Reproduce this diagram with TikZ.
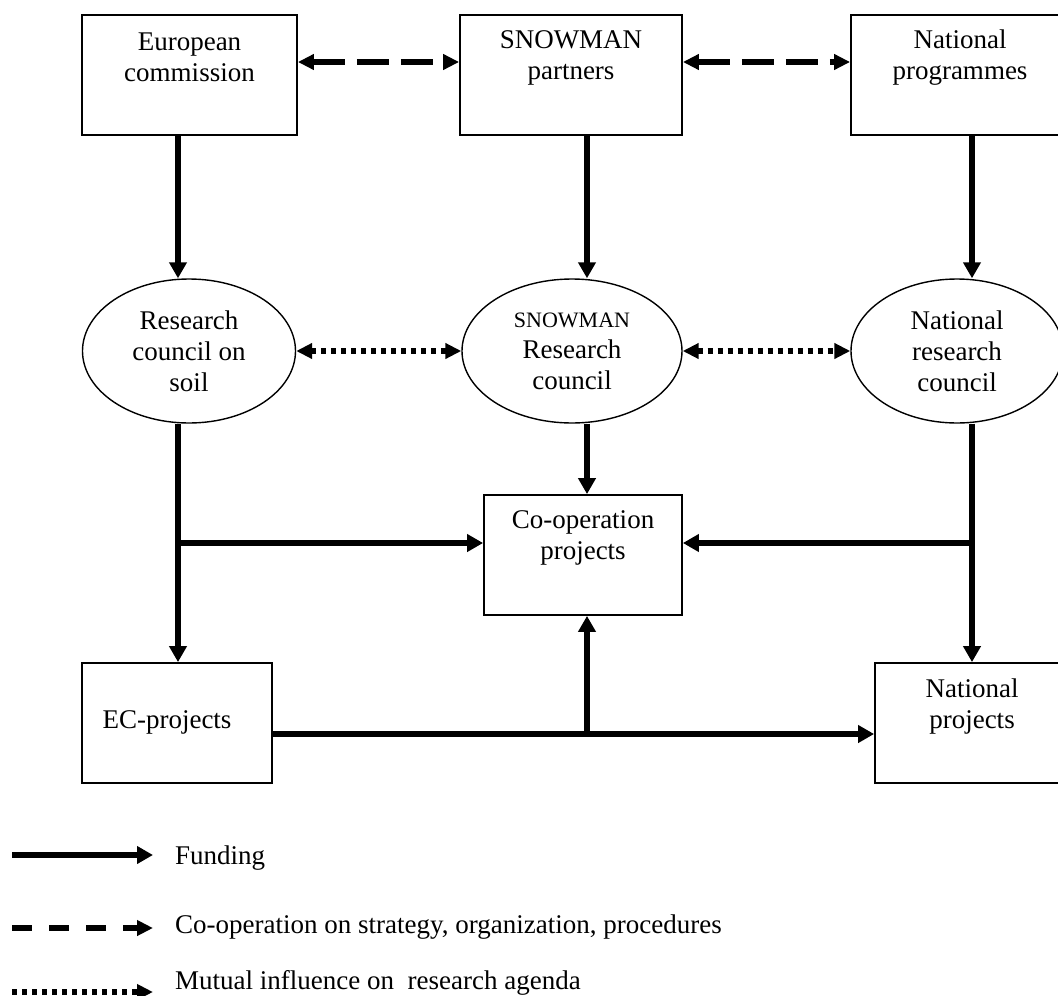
\documentclass[tikz,border=0pt]{standalone}
\usepackage{fontspec}
\setmainfont{Liberation Serif}
\usetikzlibrary{arrows.meta,shapes.geometric}
\begin{document}
\begin{tikzpicture}[x=1pt,y=-1pt,
  every node/.style={font=\fontsize{27}{31}\selectfont},
  box/.style={draw, line width=1.8pt, rectangle, inner sep=0pt},
  oval/.style={draw, line width=1.4pt, ellipse, inner sep=0pt, align=center},
  lbl/.style={align=center, inner sep=0pt},
  fund/.style={line width=5.5pt, -{Triangle[length=16pt,width=17pt]}},
  coop/.style={line width=5.5pt, dash pattern=on 32pt off 12pt,
    {Triangle[length=16pt,width=15pt]}-{Triangle[length=16pt,width=15pt]}},
  infl/.style={line width=5.5pt, dash pattern=on 5pt off 5pt,
    {Triangle[length=16pt,width=15pt]}-{Triangle[length=16pt,width=15pt]}},
  coopkey/.style={line width=5.5pt, dash pattern=on 20pt off 17pt, -{Triangle[length=16pt,width=15pt]}},
  inflkey/.style={line width=5.5pt, dash pattern=on 5pt off 5pt, -{Triangle[length=16pt,width=15pt]}}
]
\useasboundingbox (0,0) rectangle (1058,996);
\clip (0,0) rectangle (1058,996);

% top boxes
\node[box, minimum width=215pt, minimum height=120pt] (ec) at (189.5,75) {};
\node[lbl] (ect) at (189.5,57.5) {European\\commission};
\node[box, minimum width=222pt, minimum height=120pt] (sp) at (571,75) {};
\node[lbl] (spt) at (571,57.5) {SNOWMAN\\partners};
\node[box, minimum width=217pt, minimum height=120pt] (np) at (959.5,75) {};
\node[lbl] (npt) at (960,57.5) {National\\programmes};

% councils
\node[oval, minimum width=213pt, minimum height=144pt] (soil) at (189,351) {Research\\council on\\soil};
\node[oval, minimum width=220pt, minimum height=144pt] (src) at (572,351) {{\fontsize{22}{26}\selectfont SNOWMAN}\\Research\\council};
\node[oval, minimum width=212pt, minimum height=144pt] (nrc) at (957,351) {National\\research\\council};

% projects
\node[box, minimum width=198pt, minimum height=120pt] (co) at (583,555) {};
\node[lbl] (cot) at (583,537.5) {Co-operation\\projects};
\node[box, minimum width=190pt, minimum height=120pt] (ecp) at (177,723) {};
\node[lbl] (ecpt) at (167,722) {EC-projects};
\node[box, minimum width=194pt, minimum height=120pt] (nprj) at (972,723) {};
\node[lbl] (nprjt) at (972,706) {National\\projects};

% helper coordinates
\coordinate (cL) at (178,0);
\coordinate (cM) at (587,0);
\coordinate (cR) at (972,0);
\coordinate (rowT) at (0,62);
\coordinate (jL) at (178,543);
\coordinate (jR) at (972,543);
\coordinate (jB) at (587,734);

% funding
\draw[fund] (ec.south -| cL) -- (soil.north -| cL);
\draw[fund] (sp.south -| cM) -- (src.north -| cM);
\draw[fund] (np.south -| cR) -- (nrc.north -| cR);
\draw[fund] (soil.south -| cL) -- (ecp.north -| cL);
\draw[fund] (src.south -| cM) -- (co.north -| cM);
\draw[fund] (nrc.south -| cR) -- (nprj.north -| cR);
\draw[fund] (jL) -- (jL -| co.west);
\draw[fund] (jR) -- (jR -| co.east);
\draw[fund] (ecp.east |- jB) -- (jB -| nprj.west);
\draw[fund] (jB) -- (co.south -| cM);

% co-operation
\draw[coop] (ec.east |- rowT) -- (sp.west |- rowT);
\draw[coop] (sp.east |- rowT) -- (np.west |- rowT);

% mutual influence
\draw[infl] (soil.east) -- (src.west);
\draw[infl] (src.east) -- (nrc.west);

% legend
\coordinate (k1a) at (12,855);
\coordinate (k1b) at (153,855);
\coordinate (k2a) at (12,928);
\coordinate (k2b) at (153,928);
\coordinate (k3a) at (12,992);
\coordinate (k3b) at (153,992);
\draw[fund] (k1a) -- (k1b);
\draw[coopkey] (k2a) -- (k2b);
\draw[inflkey] (k3a) -- (k3b);
\node[anchor=west, inner sep=0pt] (k1t) at (175,858) {Funding};
\node[anchor=west, inner sep=0pt] (k2t) at (175,927) {Co-operation on strategy, organization, procedures};
\node[anchor=west, inner sep=0pt] (k3t) at (175,983) {Mutual influence on\ \ research agenda};
\end{tikzpicture}
\end{document}
